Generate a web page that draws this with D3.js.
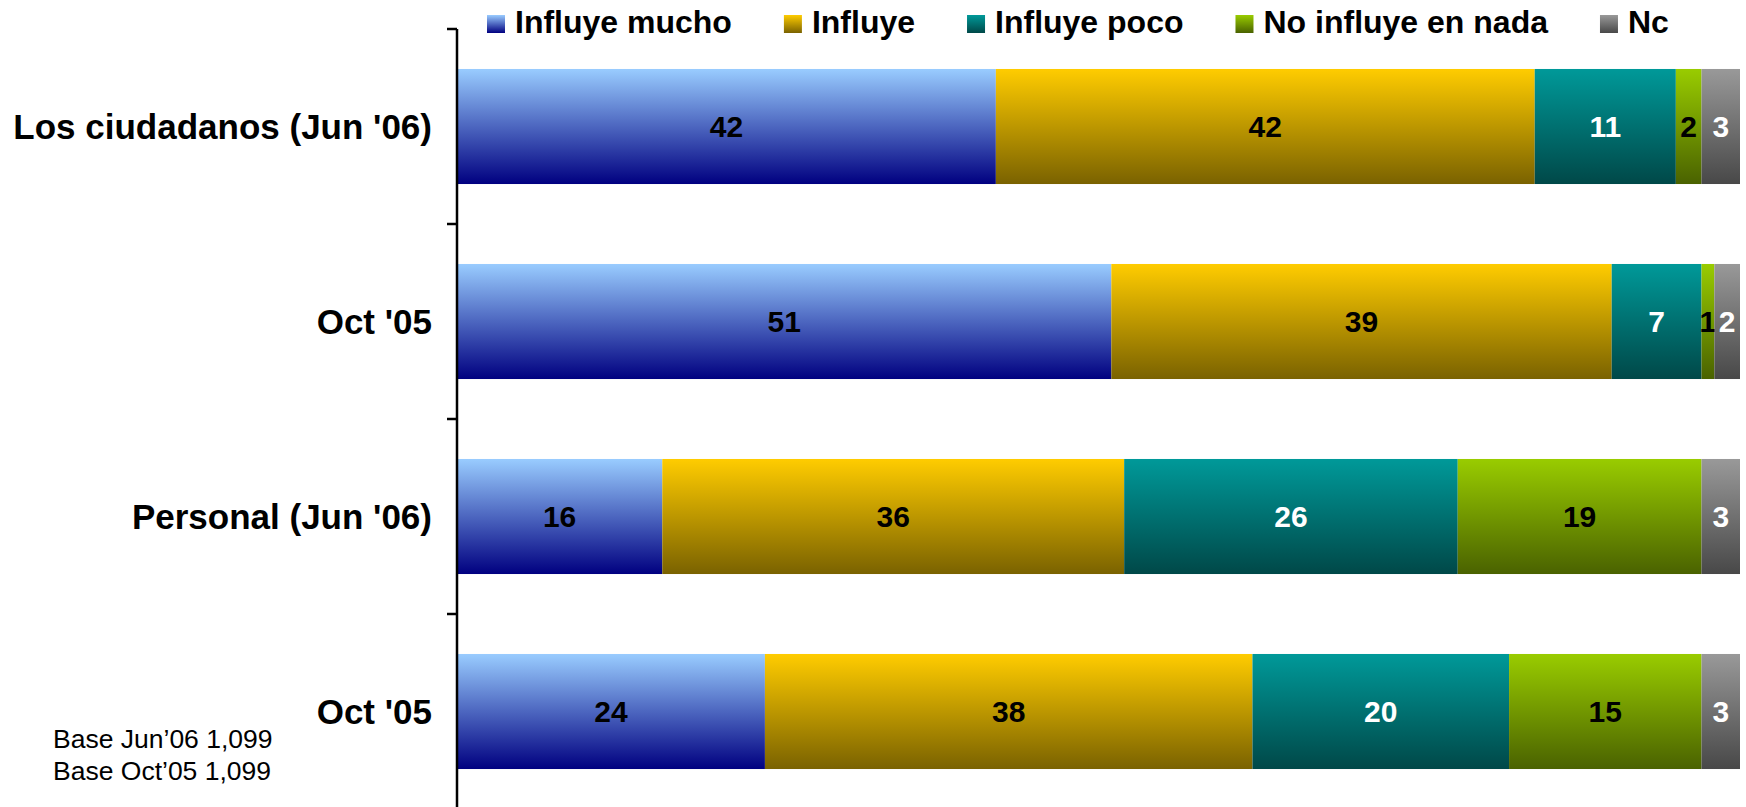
<!DOCTYPE html>
<html><head><meta charset="utf-8">
<script src="https://cdn.jsdelivr.net/npm/d3@7"></script>
<style>
html,body{margin:0;padding:0;background:#fff;}
svg{display:block;font-family:Arial,"Liberation Sans",sans-serif;}
</style></head>
<body><svg id="c" width="1746" height="807"></svg>
<script>
const categories = ["Los ciudadanos (Jun '06)", "Oct '05", "Personal (Jun '06)", "Oct '05 "];
const seriesNames = ["Influye mucho", "Influye", "Influye poco", "No influye en nada", "Nc"];
const influyeMucho = [42, 51, 16, 24];
const influye = [42, 39, 36, 38];
const influyePoco = [11, 7, 26, 20];
const noInfluye = [2, 1, 19, 15];
const nc = [3, 2, 3, 3];
const seriesValues = [influyeMucho, influye, influyePoco, noInfluye, nc];
const gradTop = ["#99CCFF", "#FFCC00", "#009999", "#99CC00", "#999999"];
const gradBottom = ["#000080", "#7A6200", "#004848", "#4A6200", "#484848"];
const labelColors = ["#000", "#000", "#fff", "#000", "#fff"];
const notes = ["Base Jun\u201906 1,099", "Base Oct\u201905 1,099"];

const svg = d3.select("#c");
const defs = svg.append("defs");
seriesNames.forEach((s, i) => {
  const g = defs.append("linearGradient").attr("id", "g" + i)
    .attr("x1", 0).attr("y1", 0).attr("x2", 0).attr("y2", 1);
  g.append("stop").attr("offset", "0%").attr("stop-color", gradTop[i]);
  g.append("stop").attr("offset", "100%").attr("stop-color", gradBottom[i]);
});

const x0 = 457, x1 = 1740;
const x = d3.scaleLinear().domain([0, 100]).range([x0, x1]);
const p = 0.41;
const y = d3.scaleBand().domain(categories).range([29, 809]).paddingInner(p).paddingOuter(p / 2);
const step = y.step();

// stacked data
const rows = categories.map((c, ci) => {
  const o = { cat: c };
  seriesNames.forEach((s, si) => o[s] = seriesValues[si][ci]);
  return o;
});
const stack = d3.stack().keys(seriesNames)(rows);

stack.forEach((layer, si) => {
  const g = svg.append("g");
  g.selectAll("rect").data(layer).join("rect")
    .attr("x", d => x(d[0]))
    .attr("y", d => y(d.data.cat))
    .attr("width", d => x(d[1]) - x(d[0]))
    .attr("height", y.bandwidth())
    .attr("fill", `url(#g${si})`);
  g.selectAll("text").data(layer).join("text")
    .attr("x", d => (x(d[0]) + x(d[1])) / 2)
    .attr("y", d => y(d.data.cat) + y.bandwidth() / 2)
    .attr("dy", "0.34em")
    .attr("text-anchor", "middle")
    .attr("font-weight", "bold")
    .attr("font-size", 30)
    .attr("fill", labelColors[si])
    .text(d => d[1] - d[0]);
});

// axis
const ax = svg.append("g");
ax.append("line").attr("x1", x0).attr("x2", x0).attr("y1", 29).attr("y2", 807)
  .attr("stroke", "#000").attr("stroke-width", 2.5);
const tickYs = categories.map(c => y(c) - step * p / 2).concat([y(categories[categories.length - 1]) + y.bandwidth() + step * p / 2]);
ax.selectAll("line.t").data(tickYs).join("line").attr("class", "t")
  .attr("x1", x0 - 10).attr("x2", x0).attr("y1", d => d).attr("y2", d => d)
  .attr("stroke", "#000").attr("stroke-width", 2.5);
ax.selectAll("text").data(categories).join("text")
  .attr("x", x0 - 25)
  .attr("y", c => y(c) + y.bandwidth() / 2)
  .attr("dy", "0.36em")
  .attr("text-anchor", "end")
  .attr("font-weight", "bold")
  .attr("font-size", 35)
  .text(c => c.trim());

// legend
const leg = svg.append("g");
let lx = 487;
seriesNames.forEach((s, i) => {
  leg.append("rect").attr("x", lx).attr("y", 15).attr("width", 18).attr("height", 18)
    .attr("fill", `url(#g${i})`);
  const t = leg.append("text")
    .attr("x", lx + 28).attr("y", 33)
    .attr("font-weight", "bold").attr("font-size", 32)
    .text(s);
  const w = t.node().getComputedTextLength();
  lx += 28 + w + 52;
});

// notes
svg.append("g").selectAll("text").data(notes).join("text")
  .attr("x", 53).attr("y", (d, i) => 748 + i * 32)
  .attr("font-size", 26.5)
  .text(d => d);
</script>
</body></html>
